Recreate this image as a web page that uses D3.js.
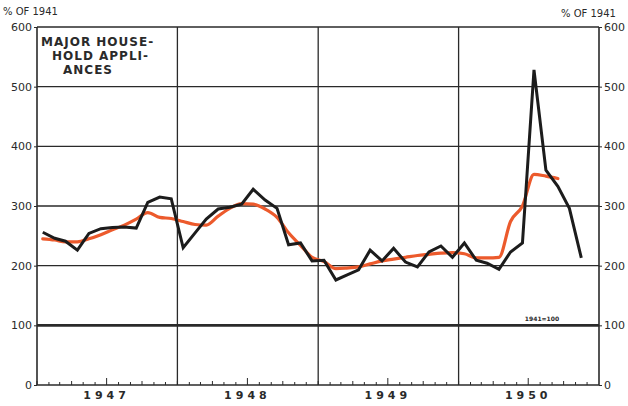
<!DOCTYPE html>
<html><head><meta charset="utf-8">
<script src="https://cdn.jsdelivr.net/npm/d3@7"></script>
<style>
html,body{margin:0;padding:0;background:#fff;}
svg{display:block;font-family:"DejaVu Sans",sans-serif;}
</style></head>
<body><svg id="c" width="628" height="406"></svg>
<script>
const months = [
 "1947-01","1947-02","1947-03","1947-04","1947-05","1947-06","1947-07","1947-08","1947-09","1947-10","1947-11","1947-12",
 "1948-01","1948-02","1948-03","1948-04","1948-05","1948-06","1948-07","1948-08","1948-09","1948-10","1948-11","1948-12",
 "1949-01","1949-02","1949-03","1949-04","1949-05","1949-06","1949-07","1949-08","1949-09","1949-10","1949-11","1949-12",
 "1950-01","1950-02","1950-03","1950-04","1950-05","1950-06","1950-07","1950-08","1950-09","1950-10","1950-11"
];
const actual = [256,246,241,226,254,262,264,265,263,306,315,312,
                230,255,278,295,298,303,328,310,296,235,238,208,
                209,176,184,193,226,208,229,206,198,223,233,214,
                238,209,204,194,223,238,528,360,333,296,213];
const trend  = [245,243,240,240,245,252,260,268,278,289,281,279,
                274,269,268,283,296,304,303,295,281,255,234,214,
                207,195,196,198,203,208,211,214,217,219,221,222,
                220,213,213,214,274,300,353,350,346];
const yTicks = [0,100,200,300,400,500,600];
const years = ["1947","1948","1949","1950"];
const titleLines = ["MAJOR HOUSE-","HOLD APPLI-","ANCES"];
const unitLabel = "% OF 1941";
const baseNote = "1941=100";

const svg = d3.select("#c");
const L = 37, R = 599, T = 27, B = 385;
const parse = d3.timeParse("%Y-%m");
const mid = m => { const d = parse(m); return new Date(d.getFullYear(), d.getMonth(), 16); };
const x = d3.scaleTime().domain([new Date(1947,0,1), new Date(1951,0,1)]).range([L, R]);
const y = d3.scaleLinear().domain([0,600]).range([B, T]);
const ink = "#2a2a2a";

// horizontal grid
svg.append("g").selectAll("line").data(yTicks).join("line")
  .attr("x1", L).attr("x2", R).attr("y1", d=>y(d)).attr("y2", d=>y(d))
  .attr("stroke", ink).attr("stroke-width", d => d===100 ? 2.6 : (d===0 ? 1.6 : 1.3));
// vertical year lines
const yearStarts = years.map(v => new Date(+v,0,1)).concat([new Date(1951,0,1)]);
svg.append("g").selectAll("line").data(yearStarts).join("line")
  .attr("x1", d=>x(d)).attr("x2", d=>x(d)).attr("y1", T).attr("y2", B)
  .attr("stroke", ink).attr("stroke-width", (d,i)=> (i===0||i===4)?1.6:1.3);

// left & right axes
const yl = d3.axisLeft(y).tickValues(yTicks).tickSize(3).tickPadding(2);
const gl = svg.append("g").attr("transform",`translate(${L},0)`).call(yl);
const yr = d3.axisRight(y).tickValues(yTicks).tickSize(3).tickPadding(2);
const gr = svg.append("g").attr("transform",`translate(${R},0)`).call(yr);
[gl,gr].forEach(g=>{
  g.select(".domain").remove();
  g.selectAll("line").attr("stroke", ink);
  g.selectAll("text").attr("font-size", 11).attr("fill", ink).attr("font-family","DejaVu Sans");
});

// bottom month ticks
const monthTicks = d3.timeMonth.range(new Date(1947,0,1), new Date(1951,0,1));
svg.append("g").selectAll("line").data(monthTicks).join("line")
  .attr("x1", d=>x(d)).attr("x2", d=>x(d)).attr("y1", B)
  .attr("y2", d => B - (d.getMonth()===6 ? 7 : (d.getMonth()%3===0 ? 4 : 3)))
  .attr("stroke", ink).attr("stroke-width", 1);

// year labels
svg.append("g").selectAll("text").data(years).join("text")
  .attr("x", d => x(new Date(+d,6,1)))
  .attr("y", 399).attr("text-anchor","middle")
  .attr("font-size", 11).attr("font-weight","bold").attr("letter-spacing", "4px")
  .attr("fill", ink).text(d=>d);

// unit labels
svg.append("text").attr("x", 3).attr("y", 15).attr("font-size", 10).attr("fill", ink).text(unitLabel);
svg.append("text").attr("x", 561).attr("y", 17).attr("font-size", 10).attr("fill", ink).text(unitLabel);

// title
svg.append("g").selectAll("text").data(titleLines).join("text")
  .attr("x", (d,i)=> [41,52,63][i]).attr("y", (d,i)=> 46 + i*14)
  .attr("font-size", 12).attr("font-weight","bold").attr("letter-spacing","1px")
  .attr("fill", ink).text(d=>d);

// base note
svg.append("text").attr("x", 542).attr("y", 321).attr("text-anchor","middle")
  .attr("font-size", 6).attr("font-weight","bold").attr("fill", ink).text(baseNote);

// trend line (orange)
svg.append("path").datum(trend)
  .attr("fill","none").attr("stroke","#ec5a2c").attr("stroke-width",3.2)
  .attr("stroke-linejoin","round").attr("stroke-linecap","round")
  .attr("d", d3.line().x((d,i)=>x(mid(months[i]))).y(d=>y(d)).curve(d3.curveMonotoneX));
// actual line (black)
svg.append("path").datum(actual)
  .attr("fill","none").attr("stroke","#1c1c1c").attr("stroke-width",3)
  .attr("stroke-linejoin","miter").attr("stroke-linecap","butt")
  .attr("d", d3.line().x((d,i)=>x(mid(months[i]))).y(d=>y(d)));
</script>
</body></html>
